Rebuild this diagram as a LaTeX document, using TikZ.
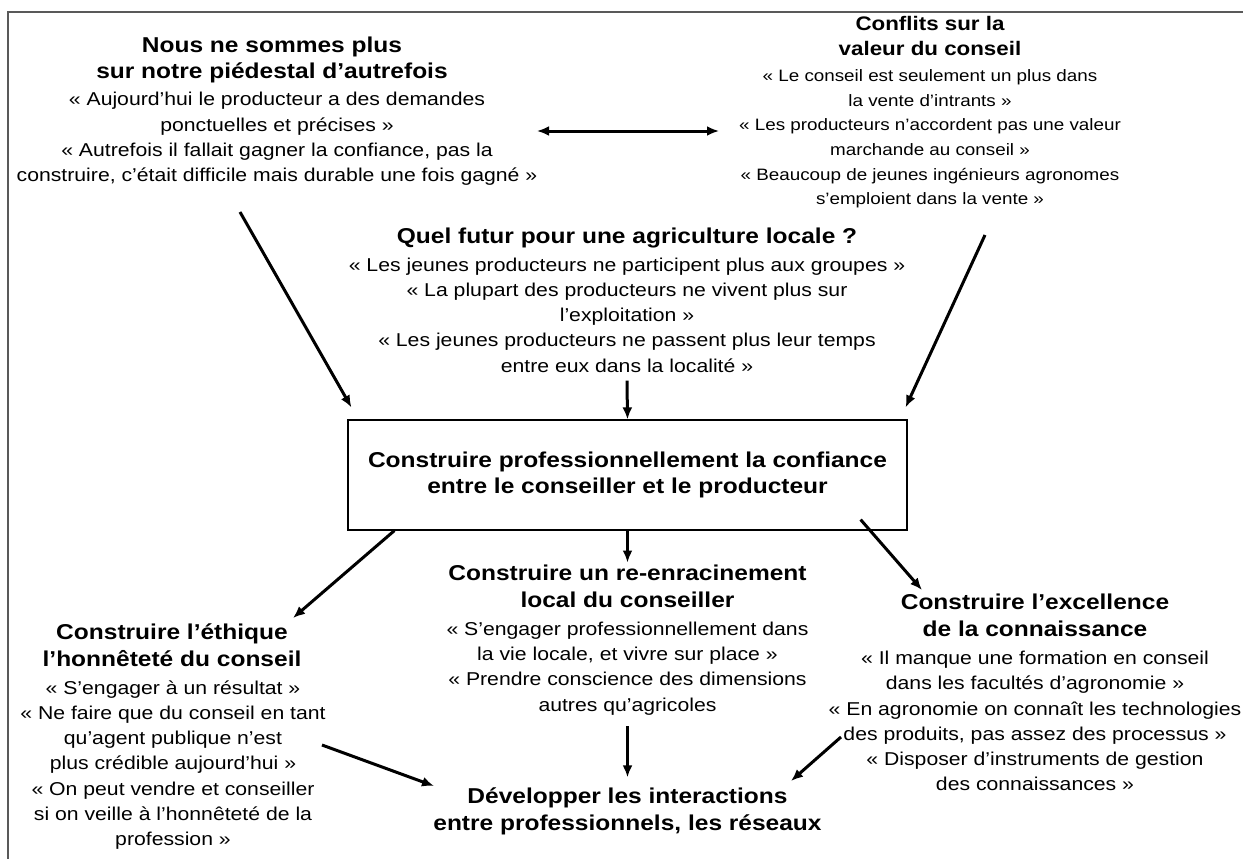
\documentclass[tikz,border=0pt]{standalone}
\usepackage{fontspec}
\setmainfont{Liberation Sans}[FakeStretch=1.14]
\usetikzlibrary{arrows.meta}

\newcommand\citefont{\fontsize{18.6}{25.3}\selectfont}
\newcommand\titrefont{\fontsize{21.5}{26.8}\selectfont\bfseries}

\begin{document}
\begin{tikzpicture}[x=1pt,y=-1pt,
    >={Latex[length=12pt,width=10pt]},
    titre/.style={align=center,font=\titrefont,inner sep=0pt},
    citation/.style={align=center,font=\citefont,inner sep=0pt},
    cadre/.style={draw=black,line width=1.2pt,minimum width=559pt,minimum height=110pt,align=center,font=\titrefont},
    fleche/.style={line width=3pt,->}]
    \useasboundingbox (0,0) rectangle (1243,859);
    % page frame
    \draw [black!65,line width=1.5pt] (8,859) -- (8,12) -- (1243,12);

    % top left
    \node[titre] (nousT) at (272,60) {Nous ne sommes plus\\sur notre piédestal d’autrefois};
    \node[citation] (nousQ) at (277,139) {« Aujourd’hui le producteur a des demandes\\ponctuelles et précises »\\« Autrefois il fallait gagner la confiance, pas la\\construire, c’était difficile mais durable une fois gagné »};
    % top right
    \node[titre,font=\fontsize{19.6}{25.5}\selectfont\bfseries] (confT) at (930,36) {Conflits sur la\\valeur du conseil};
    \node[citation,font=\fontsize{16.5}{24.6}\selectfont] (confQ) at (930,139) {« Le conseil est seulement un plus dans\\la vente d’intrants »\\« Les producteurs n’accordent pas une valeur\\marchande au conseil »\\« Beaucoup de jeunes ingénieurs agronomes\\s’emploient dans la vente »};
    % middle
    \node[titre] (futT) at (627,238) {Quel futur pour une agriculture locale ?};
    \node[citation] (futQ) at (627,315) {« Les jeunes producteurs ne participent plus aux groupes »\\« La plupart des producteurs ne vivent plus sur\\l’exploitation »\\« Les jeunes producteurs ne passent plus leur temps\\entre eux dans la localité »};

    \node[cadre] (confiance) at (627.5,475) {Construire professionnellement la confiance\\entre le conseiller et le producteur};

    % bottom
    \node[titre] (enracT) at (627.5,586) {Construire un re-enracinement\\local du conseiller};
    \node[citation] (enracQ) at (627.5,668.5) {« S’engager professionnellement dans\\la vie locale, et vivre sur place »\\« Prendre conscience des dimensions\\autres qu’agricoles};
    \node[titre] (ethT) at (172,645.5) {Construire l’éthique\\l’honnêteté du conseil};
    \node[citation] (ethQ) at (173,765) {« S’engager à un résultat »\\« Ne faire que du conseil en tant\\qu’agent publique n’est\\plus crédible aujourd’hui »\\« On peut vendre et conseiller\\si on veille à l’honnêteté de la\\profession »};
    \node[titre] (excT) at (1035,615) {Construire l’excellence\\de la connaissance};
    \node[citation] (excQ) at (1035,721) {« Il manque une formation en conseil\\dans les facultés d’agronomie »\\« En agronomie on connaît les technologies\\des produits, pas assez des processus »\\« Disposer d’instruments de gestion\\des connaissances »};
    \node[titre] (reseauT) at (627.5,811) {Développer les interactions\\entre professionnels, les réseaux};

    % free ends
    \coordinate (nousE) at (537,131);
    \coordinate (confW) at (719,131);
    \coordinate (nousS) at (240,212);
    \coordinate (confS) at (985,235);
    \coordinate (ethN) at (293,618);
    \coordinate (excN) at (922,590);
    \coordinate (ethE) at (322,745);
    \coordinate (reseauW) at (434,786);
    \coordinate (excW) at (841,737);
    \coordinate (reseauE) at (791,781);

    \draw[fleche,<->] (nousE) -- (confW);
    \draw[fleche] (nousS) -- ([shift={(4,-12)}]confiance.north west);
    \draw[fleche] (confS) -- ([shift={(-2,-12)}]confiance.north east);
    \draw[fleche] ([shift={(0,8)}]futQ.south) -- (confiance.north);
    \draw[fleche] ([xshift=47pt]confiance.south west) -- (ethN);
    \draw[fleche] (confiance.south) -- ([shift={(0,-2)}]enracT.north);
    \draw[fleche] ([shift={(-47,-11)}]confiance.south east) -- (excN);
    \draw[fleche] ([shift={(0,11)}]enracQ.south) -- ([shift={(0,-10)}]reseauT.north);
    \draw[fleche] (ethE) -- (reseauW);
    \draw[fleche] (excW) -- (reseauE);
\end{tikzpicture}
\end{document}
